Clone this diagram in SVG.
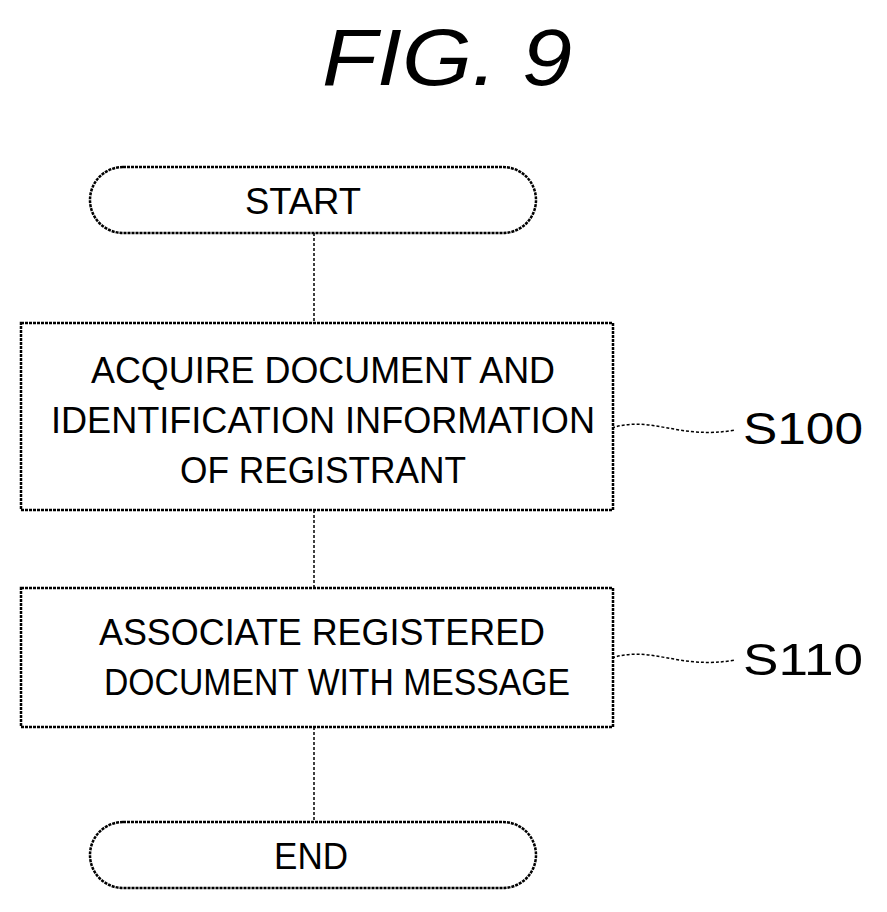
<svg xmlns="http://www.w3.org/2000/svg" width="887" height="912" viewBox="0 0 887 912">
<style>
.s{fill:#fff;stroke:#000;stroke-width:2.5;stroke-dasharray:3 1}
.t{font-family:"Liberation Sans",Arial,sans-serif;font-size:36px;text-anchor:middle;fill:#000}
.l{fill:none;stroke:#000;stroke-width:1.5;stroke-dasharray:3 2}
</style>
<rect width="887" height="912" fill="#fff"/>
<text x="447" y="85" class="t" style="font-size:80px;font-style:italic" textLength="250" lengthAdjust="spacingAndGlyphs">FIG. 9</text>
<g id="connectors">
<line class="l" x1="314" y1="233" x2="314" y2="323"/>
<line class="l" x1="314" y1="510" x2="314" y2="588"/>
<line class="l" x1="314" y1="727" x2="314" y2="822"/>
<path class="l" d="M612 428 C650 415,680 440,735 430"/>
<path class="l" d="M612 658 C650 645,680 670,735 660"/>
</g>
<g id="start"><rect class="s" x="90" y="167" width="446" height="66" rx="33"/><text class="t" x="303" y="214" textLength="116" lengthAdjust="spacingAndGlyphs">START</text></g>
<g id="s100box"><rect class="s" x="21" y="323" width="592" height="187"/>
<text class="t" x="323" y="383" textLength="464" lengthAdjust="spacingAndGlyphs">ACQUIRE DOCUMENT AND</text>
<text class="t" x="323" y="433" textLength="544" lengthAdjust="spacingAndGlyphs">IDENTIFICATION INFORMATION</text>
<text class="t" x="323" y="483" textLength="286" lengthAdjust="spacingAndGlyphs">OF REGISTRANT</text></g>
<g id="s110box"><rect class="s" x="21" y="588" width="592" height="139"/>
<text class="t" x="322" y="645" textLength="446" lengthAdjust="spacingAndGlyphs">ASSOCIATE REGISTERED</text>
<text class="t" x="337" y="695" textLength="466" lengthAdjust="spacingAndGlyphs">DOCUMENT WITH MESSAGE</text></g>
<g id="end"><rect class="s" x="90" y="822" width="446" height="66" rx="33"/><text class="t" x="311" y="869" textLength="74" lengthAdjust="spacingAndGlyphs">END</text></g>
<text class="t" x="803" y="444" style="font-size:44px" textLength="120" lengthAdjust="spacingAndGlyphs">S100</text>
<text class="t" x="803" y="675" style="font-size:44px" textLength="120" lengthAdjust="spacingAndGlyphs">S110</text>
</svg>
